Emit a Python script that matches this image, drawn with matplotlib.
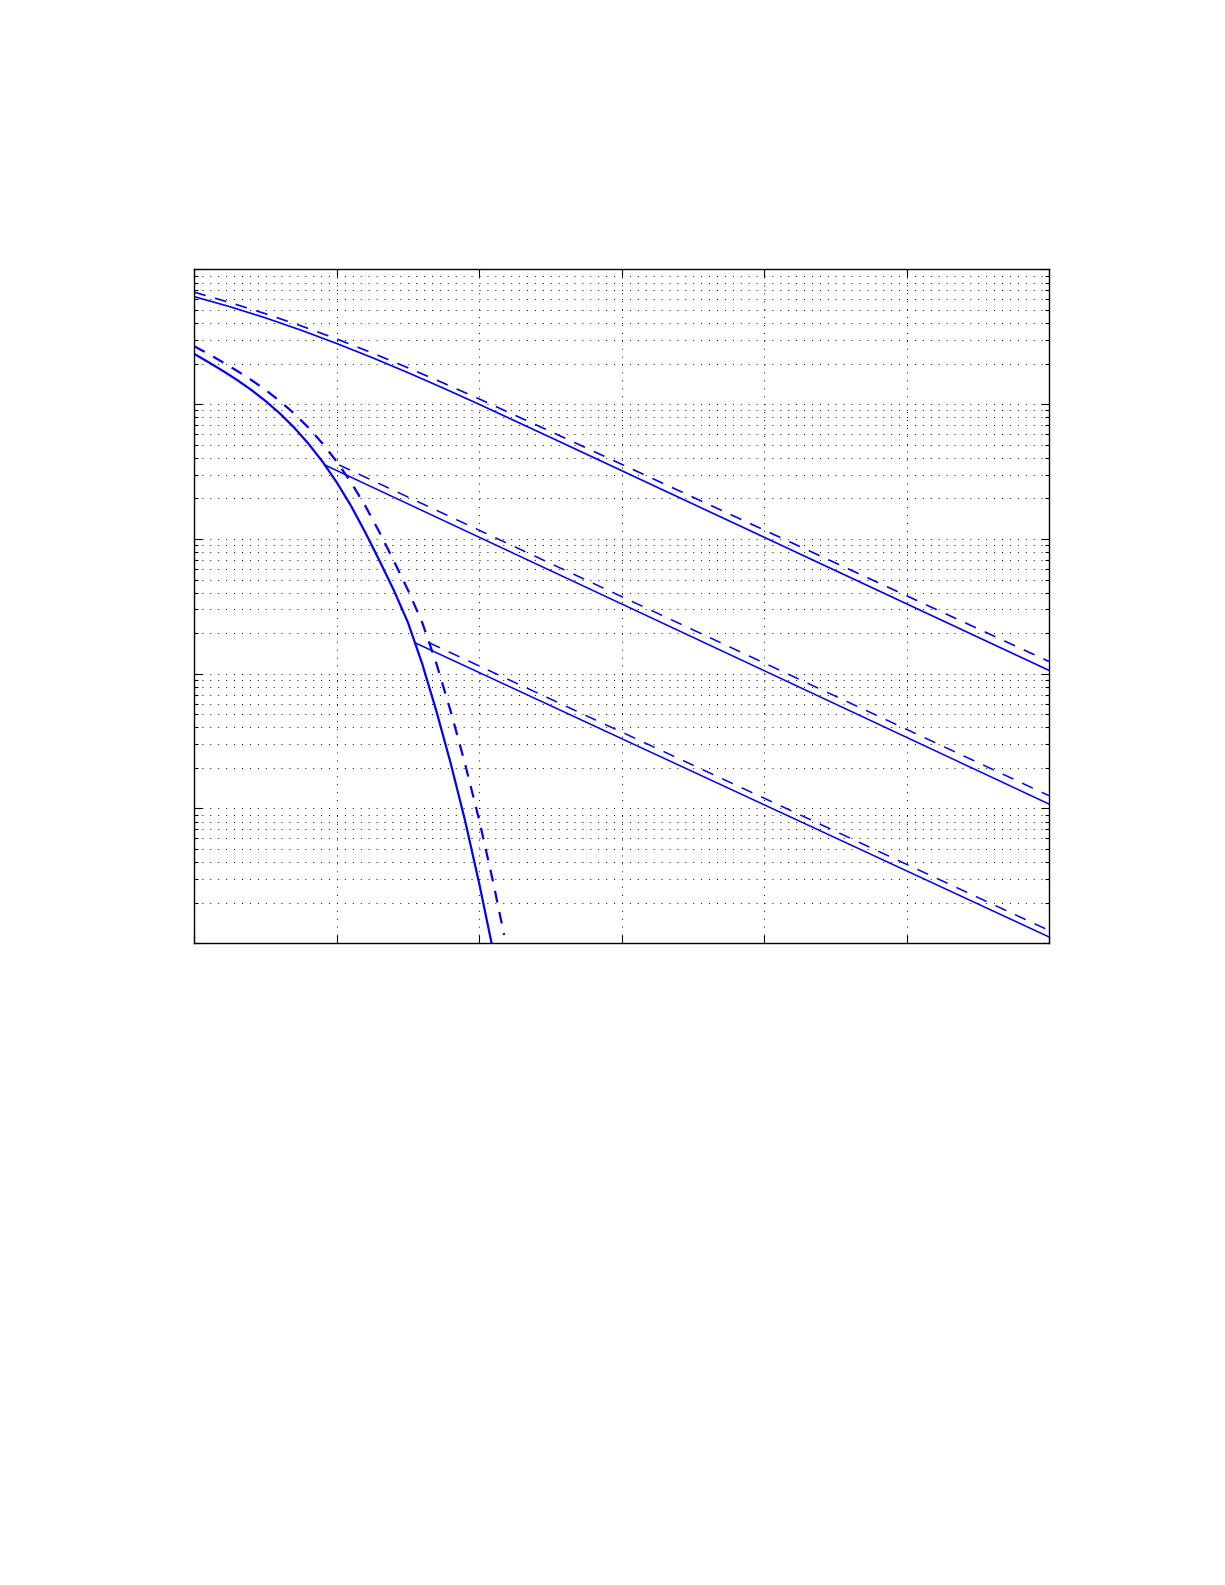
import matplotlib
matplotlib.use("Agg")
import matplotlib.pyplot as plt
from matplotlib.ticker import LogLocator, NullFormatter, MultipleLocator

plt.rcParams['lines.scale_dashes'] = False

# steep curve, solid
steep_x = [0.0, 0.1, 0.2, 0.3, 0.4, 0.5, 0.6, 0.7, 0.8, 0.9, 1.0, 1.1, 1.2,
           1.3, 1.4, 1.5, 1.6, 1.7, 1.8, 1.9, 2.0, 2.1]
steep_y = [0.2360, 0.2049, 0.1769, 0.1514, 0.1277, 0.1057, 0.08553, 0.06724,
           0.05115, 0.03748, 0.02631, 0.01763, 0.01121, 0.006902, 0.004178,
           0.002399, 0.001186, 5.260e-4, 2.163e-4, 8.204e-5, 2.780e-5, 8.590e-6]
# steep curve, dashed
steep_dx = [0.0, 0.1, 0.2, 0.3, 0.4, 0.5, 0.6, 0.7, 0.8, 0.9, 1.0, 1.1, 1.2,
            1.3, 1.4, 1.5, 1.6, 1.7, 1.8, 1.9, 2.0, 2.1, 2.175]
steep_dy = [0.2692, 0.2360, 0.2049, 0.1769, 0.1514, 0.1277, 0.1057, 0.08553,
            0.06724, 0.05115, 0.03748, 0.02631, 0.01763, 0.01121, 0.006902,
            0.004178, 0.002399, 0.001186, 5.260e-4, 2.163e-4, 8.204e-5,
            2.780e-5, 1.15e-5]

# upper line
top_x = [0.0, 0.25, 0.5, 0.75, 1.0, 1.25, 1.5, 1.75, 2.0, 2.5, 6.0]
top_y = [0.6281, 0.5292, 0.4370, 0.3542, 0.2821, 0.2214, 0.1715, 0.1314,
         0.09982, 0.05677, 0.001059]
top_dy = [0.6776, 0.5683, 0.4693, 0.3813, 0.3051, 0.2400, 0.1863, 0.1434,
          0.1094, 0.06284, 0.001233]

# branches leaving the steep curve
mid_x = [0.917, 6.0]
mid_y = [0.0354, 1.079e-4]
mid_dx = [1.017, 6.0]
mid_dy = [0.0354, 1.245e-4]
low_x = [1.549, 6.0]
low_y = [0.001698, 1.114e-5]
low_dx = [1.649, 6.0]
low_dy = [0.001698, 1.245e-5]

dash = (0, (8.5, 7))

fig = plt.figure(figsize=(12.25, 15.85), dpi=100)
ax = fig.add_axes([0.1586, 0.4049, 0.6977, 0.4251])

ax.plot(top_x, top_y, color='b', lw=1.2)
ax.plot(top_x, top_dy, color='b', lw=1.2, linestyle=dash)
ax.plot(steep_x, steep_y, color='b', lw=1.6)
ax.plot(steep_dx, steep_dy, color='b', lw=1.6, linestyle=dash)
ax.plot(mid_x, mid_y, color='b', lw=1.1)
ax.plot(mid_dx, mid_dy, color='b', lw=1.1, linestyle=dash)
ax.plot(low_x, low_y, color='b', lw=1.1)
ax.plot(low_dx, low_dy, color='b', lw=1.1, linestyle=dash)

ax.set_yscale('log')
ax.set_xlim(0, 6)
ax.set_ylim(1e-5, 1)
ax.xaxis.set_major_locator(MultipleLocator(1))
ax.yaxis.set_major_locator(LogLocator(base=10))
ax.yaxis.set_minor_locator(LogLocator(base=10, subs=range(2, 10)))
ax.yaxis.set_minor_formatter(NullFormatter())

grid_style = dict(color='k', linestyle=(0, (0.7, 5.0)), linewidth=0.7)
ax.grid(True, which='major', axis='both', **grid_style)
ax.grid(True, which='minor', axis='y', **grid_style)

ax.tick_params(which='both', direction='in', top=True, right=True,
               labelleft=False, labelbottom=False, width=0.8, color='k')
ax.tick_params(which='major', length=5.8)
ax.tick_params(which='minor', length=2.6)
for s in ax.spines.values():
    s.set_linewidth(1.0)

fig.savefig('out.png', dpi=100)
